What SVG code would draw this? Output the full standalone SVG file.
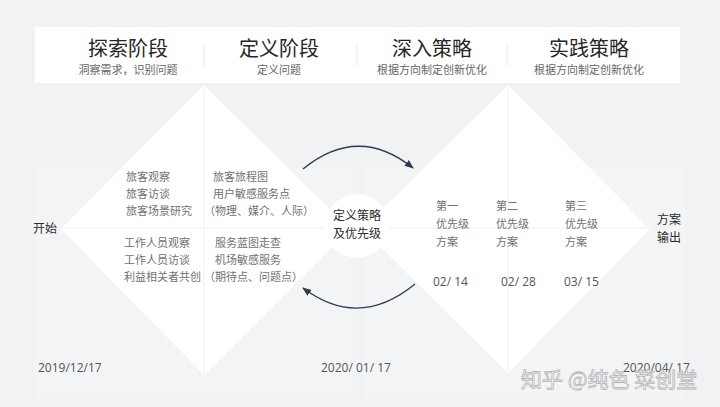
<svg xmlns="http://www.w3.org/2000/svg" width="720" height="407" viewBox="0 0 720 407">
<defs>
<style>
text{font-family:"Noto Sans CJK SC","Noto Sans",sans-serif}
.title{font-size:20px;fill:#262626;text-anchor:middle}
.sub{font-size:11px;fill:#666;text-anchor:middle}
.body{font-size:11px;fill:#727272}
.key{font-size:12px;fill:#2b2b2b}
.date{font-family:"Open Sans","Liberation Sans",sans-serif;font-size:12px;fill:#555}
.faint{stroke:#eef0f2;stroke-width:1;fill:none}
.arc{stroke:#2f3a4f;stroke-width:1.3;fill:none}
</style>
<marker id="ah" viewBox="0 0 10 10" refX="9" refY="5" markerWidth="7" markerHeight="7" orient="auto">
<path d="M0,1 L10,5 L0,9 Z" fill="#2f3a4f"/>
</marker>
</defs>
<rect x="0" y="0" width="720" height="407" fill="#f1f2f4"/>
<rect x="35" y="168" width="323" height="230" fill="#f3f4f6"/>
<rect x="363" y="168" width="322" height="230" fill="#f3f4f6"/>
<g id="header">
<rect x="35" y="27" width="645" height="56" fill="#fff"/>
<line x1="204" y1="45" x2="204" y2="66" stroke="#e8e8e8"/>
<line x1="357" y1="45" x2="357" y2="66" stroke="#e8e8e8"/>
<line x1="507" y1="45" x2="507" y2="66" stroke="#e8e8e8"/>
</g>
<g id="phase1"><text class="title" x="128" y="56">探索阶段</text><text class="sub" x="128" y="73.5">洞察需求，识别问题</text></g>
<g id="phase2"><text class="title" x="279" y="56">定义阶段</text><text class="sub" x="279" y="73.5">定义问题</text></g>
<g id="phase3"><text class="title" x="432" y="56">深入策略</text><text class="sub" x="432" y="73.5">根据方向制定创新优化</text></g>
<g id="phase4"><text class="title" x="589" y="56">实践策略</text><text class="sub" x="589" y="73.5">根据方向制定创新优化</text></g>
<g id="diamond-left">
<polygon points="204,85 350,229 204,375 61,229" fill="#fff"/>
<line class="faint" x1="204" y1="86" x2="204" y2="374"/>
<line class="faint" x1="62" y1="228" x2="349" y2="228"/>
</g>
<g id="diamond-right">
<polygon points="508,85 650,229 508,373 362,229" fill="#fff"/>
<line class="faint" x1="508" y1="86" x2="508" y2="372"/>
<line class="faint" x1="363" y1="228" x2="649" y2="228"/>
</g>
<g id="start"><text class="key" x="33" y="232.5" font-size="12.5">开始</text></g>
<g id="research">
<text class="body" x="126" y="181">旅客观察</text>
<text class="body" x="126" y="198">旅客访谈</text>
<text class="body" x="126" y="215">旅客场景研究</text>
<text class="body" x="124" y="246.5">工作人员观察</text>
<text class="body" x="124" y="263.5">工作人员访谈</text>
<text class="body" x="124" y="280.5">利益相关者共创</text>
</g>
<g id="define">
<text class="body" x="213" y="181">旅客旅程图</text>
<text class="body" x="213" y="198">用户敏感服务点</text>
<text class="body" x="204" y="215">（物理、媒介、人际）</text>
<text class="body" x="215" y="246.5">服务蓝图走查</text>
<text class="body" x="215" y="263.5">机场敏感服务</text>
<text class="body" x="204" y="280.5">（期待点、问题点）</text>
</g>
<g id="center">
<circle cx="357" cy="226" r="32" fill="#fff"/>
<text class="key" x="357" y="220" text-anchor="middle">定义策略</text>
<text class="key" x="357" y="238" text-anchor="middle">及优先级</text>
</g>
<g id="plan1"><text class="body" x="436" y="210">第一</text><text class="body" x="436" y="228">优先级</text><text class="body" x="436" y="245.5">方案</text><text class="date" x="433" y="286">02/ 14</text></g>
<g id="plan2"><text class="body" x="496" y="210">第二</text><text class="body" x="496" y="228">优先级</text><text class="body" x="496" y="245.5">方案</text><text class="date" x="501" y="286">02/ 28</text></g>
<g id="plan3"><text class="body" x="565" y="210">第三</text><text class="body" x="565" y="228">优先级</text><text class="body" x="565" y="245.5">方案</text><text class="date" x="564" y="286">03/ 15</text></g>
<g id="output"><text class="key" x="657" y="223.5">方案</text><text class="key" x="657" y="241.5">输出</text></g>
<g id="connectors">
<path class="arc" d="M303,169 Q358,124 413,168" marker-end="url(#ah)"/>
<path class="arc" d="M415,284 Q359,330 303,288" marker-end="url(#ah)"/>
</g>
<g id="dates">
<text class="date" x="38" y="371.5">2019/12/17</text>
<text class="date" x="321" y="371.5">2020/ 01/ 17</text>
<text class="date" x="623" y="371.5">2020/04/ 17</text>
</g>
<text x="521" y="387" font-size="21" fill="#fff" stroke="#b5b5b5" stroke-width="0.8" style="font-family:'Noto Sans CJK SC',sans-serif">知乎 @纯色 菜创堂</text>
</svg>
